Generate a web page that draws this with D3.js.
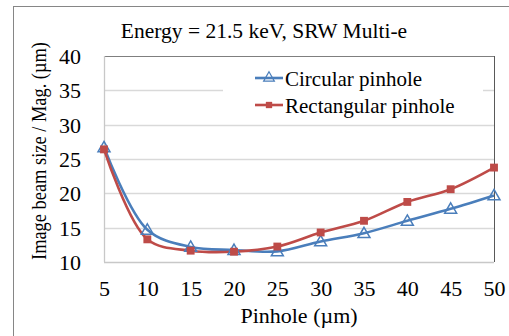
<!DOCTYPE html>
<html><head><meta charset="utf-8">
<script src="https://cdn.jsdelivr.net/npm/d3@7"></script>
<style>body{margin:0;background:#fff}svg{display:block}text{font-family:"Liberation Serif","Times New Roman","DejaVu Serif",serif;fill:#000}</style>
</head><body><svg id="c" width="509" height="336"></svg>
<script>
const pinholes = [5,10,15,20,25,30,35,40,45,50];
const circular = [26.7,14.7,12.2,11.75,11.55,13.0,14.2,16.0,17.75,19.7];
const rectangular = [26.4,13.3,11.65,11.5,12.25,14.3,16.0,18.75,20.6,23.75];
const yTicks = [10,15,20,25,30,35,40];
const xTicks = [5,10,15,20,25,30,35,40,45,50];
const seriesNames = ["Circular pinhole","Rectangular pinhole"];
const colors = ["#4a7ebb","#be4b48"];
const title = "Energy = 21.5 keV, SRW Multi-e";

const svg = d3.select("#c");
const L=104,R=494,T=56,B=262;
const x = d3.scaleLinear().domain([5,50]).range([L,R]);
const y = d3.scaleLinear().domain([10,40]).range([B,T]);

svg.append("rect").attr("x",13.5).attr("y",6.5).attr("width",600).attr("height",400)
  .attr("fill","none").attr("stroke","#868686").attr("stroke-width",1);

svg.append("text").attr("x",264).attr("y",38).attr("text-anchor","middle")
  .style("font-size","21.5px").text(title);

svg.append("g").selectAll("line").data(yTicks.filter(d=>d>10&&d<40)).join("line")
  .attr("x1",L).attr("x2",R).attr("y1",d=>Math.round(y(d))+0.5).attr("y2",d=>Math.round(y(d))+0.5)
  .attr("stroke","#d9d9d9").attr("stroke-width",1.3);

svg.append("line").attr("x1",L).attr("x2",R).attr("y1",T+0.5).attr("y2",T+0.5).attr("stroke","#7f7f7f");
svg.append("line").attr("x1",R+0.5).attr("x2",R+0.5).attr("y1",T).attr("y2",B).attr("stroke","#595959");
svg.append("line").attr("x1",L).attr("x2",R).attr("y1",B+0.5).attr("y2",B+0.5).attr("stroke","#c8c8c8").attr("stroke-width",1.3);
svg.append("line").attr("x1",L+0.5).attr("x2",L+0.5).attr("y1",T).attr("y2",B).attr("stroke","#c8c8c8").attr("stroke-width",1.3);

svg.append("rect").attr("x",223).attr("y",64).attr("width",260).attr("height",56).attr("fill","#fff");

const yAxis = d3.axisLeft(y).tickValues(yTicks).tickSize(0).tickPadding(0).tickFormat(d3.format("d"));
const gy = svg.append("g").attr("transform",`translate(81,0)`).call(yAxis);
gy.select(".domain").remove();
gy.selectAll("text").style("font-size","22px").attr("fill","#000").attr("dy","0.34em");

const xAxis = d3.axisBottom(x).tickValues(xTicks).tickSize(0).tickPadding(0).tickFormat(d3.format("d"));
const gx = svg.append("g").attr("transform",`translate(0,281)`).call(xAxis);
gx.select(".domain").remove();
gx.selectAll("text").style("font-size","22px").attr("fill","#000").attr("dy","0.68em");

svg.append("text").attr("x",299).attr("y",323).attr("text-anchor","middle")
  .style("font-size","22px").text("Pinhole (µm)");
svg.append("text").attr("transform","translate(46,151) rotate(-90)").attr("text-anchor","middle")
  .style("font-size","21px").attr("textLength",218).attr("lengthAdjust","spacingAndGlyphs")
  .text("Image beam size / Mag. (µm)");

const line = d3.line().x((d,i)=>x(pinholes[i])).y(d=>y(d)).curve(d3.curveCatmullRom.alpha(0.5));
[circular,rectangular].forEach((s,k)=>{
  svg.append("path").datum(s).attr("d",line).attr("fill","none")
    .attr("stroke",colors[k]).attr("stroke-width",2.6);
});
const tri = d3.symbol().type(d3.symbolTriangle).size(62);
const sq = d3.symbol().type(d3.symbolSquare).size(62);
svg.append("g").selectAll("path").data(circular).join("path")
  .attr("d",tri).attr("transform",(d,i)=>`translate(${x(pinholes[i])},${y(d)+1})`)
  .attr("fill","none").attr("stroke",colors[0]).attr("stroke-width",1.5);
svg.append("g").selectAll("path").data(rectangular).join("path")
  .attr("d",sq).attr("transform",(d,i)=>`translate(${x(pinholes[i])},${y(d)})`)
  .attr("fill",colors[1]);

const lg = svg.append("g");
seriesNames.forEach((n,k)=>{
  const yy = 78 + k*27;
  lg.append("line").attr("x1",255).attr("x2",283).attr("y1",yy).attr("y2",yy).attr("stroke",colors[k]).attr("stroke-width",2.6);
  lg.append("path").attr("d",k===0?d3.symbol().type(d3.symbolTriangle).size(50):d3.symbol().type(d3.symbolSquare).size(40))
    .attr("transform",`translate(269,${yy})`)
    .attr("fill",k===0?"none":colors[1]).attr("stroke",k===0?colors[0]:"none").attr("stroke-width",1.2);
  lg.append("text").attr("x",285).attr("y",yy+8).style("font-size","21px").text(n);
});
</script></body></html>
